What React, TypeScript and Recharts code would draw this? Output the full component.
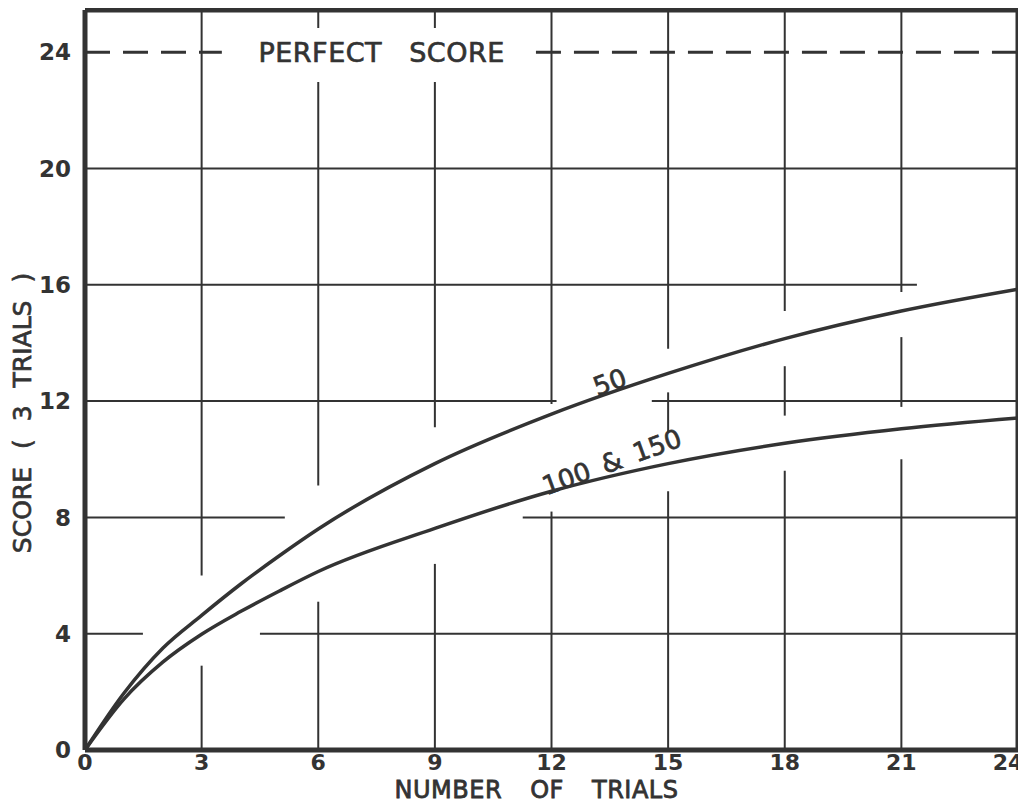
import React from 'react';
import { LineChart, Line, XAxis, YAxis, ReferenceLine, ReferenceDot } from 'recharts';

// values
const trials = [0, 1, 2, 3, 4, 5, 6, 9, 12, 15, 18, 21, 24];
const score50 = [0, 1.95, 3.5, 4.63, 5.7, 6.68, 7.6, 9.85, 11.55, 12.95, 14.15, 15.1, 15.85];
const score100and150 = [0, 1.75, 3.02, 3.98, 4.76, 5.47, 6.14, 7.62, 8.9, 9.85, 10.55, 11.05, 11.42];

const xTicks = [0, 3, 6, 9, 12, 15, 18, 21, 24];
const yTicks = [0, 4, 8, 12, 16, 20, 24];
const Y_TOP = 25.45;
const PERFECT = 24;

// the hand drawn grid is broken where the curves and labels pass
const hGrid: [number, number, number][] = [
  [4, 0, 1.49], [4, 4.5, 24],
  [8, 0, 5.14], [8, 11.26, 24],
  [12, 0, 12.13], [12, 14.58, 24],
  [16, 0, 21.4],
  [20, 0, 24],
];
const perfectDashes: [number, number][] = [[0, 3.52], [11.6, 24]];
const vGrid: [number, number, number][] = [
  [3, 0, 2.9], [3, 6.0, Y_TOP],
  [6, 0, 5.1], [6, 9.1, 22.97], [6, 24.83, Y_TOP],
  [9, 0, 6.4], [9, 11.1, 22.97], [9, 24.83, Y_TOP],
  [12, 0, 8.2], [12, 11.9, Y_TOP],
  [15, 0, 8.9], [15, 10.9, 12.3], [15, 13.8, Y_TOP],
  [18, 0, 9.6], [18, 11.5, 13.2], [18, 15.1, Y_TOP],
  [21, 0, 10.0], [21, 11.8, 14.2], [21, 15.75, Y_TOP],
];

const INK = '#333';
const FONT = '"DejaVu Sans", sans-serif';

const data = trials.map((t, i) => ({ trials: t, s50: score50[i], s100: score100and150[i] }));

function textAt(label: string, size: number, angle: number, extra: any = {}) {
  return (props: any) => (
    <text
      x={props.cx}
      y={props.cy}
      transform={`rotate(${angle} ${props.cx} ${props.cy})`}
      textAnchor="middle"
      dominantBaseline="central"
      fontFamily={FONT}
      fontSize={size}
      fill={INK}
      stroke={INK}
      strokeWidth={0.7}
      {...extra}
    >
      {label}
    </text>
  );
}

// last label sits inside the page edge, like the original lettering
const XTick = (props: any) => {
  const v = props.payload.value;
  return (
    <text x={props.x - (v === 24 ? 10 : 0)} y={props.y} dy="0.71em" textAnchor="middle"
      fontFamily={FONT} fontSize={22} fontWeight="bold" fill={INK}>
      {v}
    </text>
  );
};

export default function App() {
  return (
    <div style={{ background: '#fff' }}>
      <LineChart width={1018} height={797} data={data} margin={{ top: 2, right: 8, bottom: 0, left: 0 }}>
        <XAxis
          dataKey="trials"
          type="number"
          domain={[0, 24]}
          ticks={xTicks}
          interval={0}
          tickLine={false}
          tickSize={0}
          tickMargin={4}
          height={55}
          axisLine={{ stroke: INK, strokeWidth: 5 }}
          tick={XTick}
          label={{
            content: (p: any) => {
              const vb = p.viewBox;
              return (
                <text x={vb.x + vb.width / 2 - 15} y={vb.y + 48} textAnchor="middle" fontFamily={FONT}
                  fontSize={24} fill={INK} stroke={INK} strokeWidth={0.8} wordSpacing={20} letterSpacing={0.5}>
                  NUMBER OF TRIALS
                </text>
              );
            },
          }}
        />
        <YAxis
          type="number"
          domain={[0, Y_TOP]}
          ticks={yTicks}
          interval={0}
          width={77}
          tickLine={false}
          tickSize={0}
          tickMargin={14}
          axisLine={{ stroke: INK, strokeWidth: 5 }}
          tick={{ fill: INK, fontSize: 23, fontWeight: 'bold', fontFamily: FONT }}
          label={{
            content: (p: any) => {
              const vb = p.viewBox;
              const cx = vb.x + 14;
              const cy = vb.y + vb.height / 2 + 33;
              return (
                <text x={cx} y={cy} transform={`rotate(-90 ${cx} ${cy})`} textAnchor="middle"
                  dominantBaseline="central" fontFamily={FONT} fontSize={25} fill={INK}
                  stroke={INK} strokeWidth={0.7} wordSpacing={10}>
                  SCORE ( 3 TRIALS )
                </text>
              );
            },
          }}
        />

        {hGrid.map(([y, x1, x2], i) => (
          <ReferenceLine key={`h${i}`} segment={[{ x: x1, y }, { x: x2, y }]} stroke={INK} strokeWidth={2} />
        ))}
        {vGrid.map(([x, y1, y2], i) => (
          <ReferenceLine key={`v${i}`} segment={[{ x, y: y1 }, { x, y: y2 }]} stroke={INK} strokeWidth={2} />
        ))}
        {perfectDashes.map(([x1, x2], i) => (
          <ReferenceLine key={`p${i}`} segment={[{ x: x1, y: PERFECT }, { x: x2, y: PERFECT }]}
            stroke={INK} strokeWidth={3} strokeDasharray="25 13" />
        ))}

        {/* frame: top and right edges */}
        <ReferenceLine y={Y_TOP} stroke={INK} strokeWidth={5} />
        <ReferenceLine x={24} stroke={INK} strokeWidth={5} />

        <Line type="monotone" dataKey="s50" stroke={INK} strokeWidth={3.5} dot={false} isAnimationActive={false} />
        <Line type="monotone" dataKey="s100" stroke={INK} strokeWidth={3.5} dot={false} isAnimationActive={false} />

        <ReferenceDot x={7.63} y={PERFECT} r={0} shape={textAt('PERFECT SCORE', 27, 0, { wordSpacing: 18, letterSpacing: 0.5 })} />
        <ReferenceDot x={13.5} y={12.65} r={0} shape={textAt('50', 26, -20)} />
        <ReferenceDot x={13.55} y={9.9} r={0} shape={textAt('100 & 150', 26, -20, { wordSpacing: 5 })} />
      </LineChart>
    </div>
  );
}
